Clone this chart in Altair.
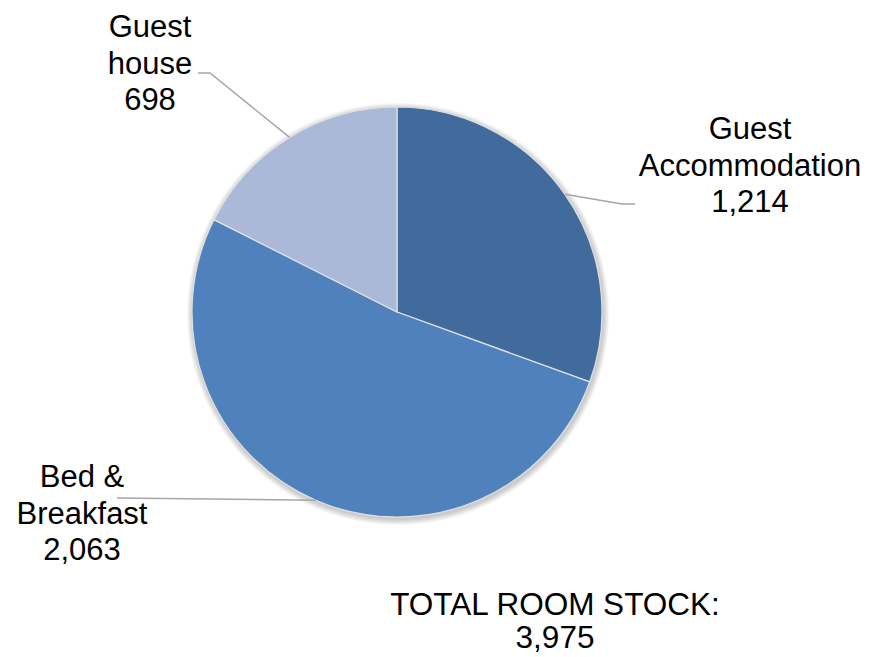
import math
import altair as alt
import pandas as pd

# ---- data ----
categories = ["Guest Accommodation", "Bed & Breakfast", "Guest house"]
label_names = ["Guest\nAccommodation", "Bed &\nBreakfast", "Guest\nhouse"]
values = [1214, 2063, 698]
total_label = "TOTAL ROOM STOCK:"
colors = ["#416B9D", "#4F81BD", "#A9B9D7"]

# ---- layout (pixels within the chart area) ----
W, H = 858, 649
CX, CY, R = 389, 304, 205
FONT = "Liberation Sans"
label_pos = {  # centre x, first baseline y
    "Guest Accommodation": (742, 131),
    "Bed & Breakfast": (74, 479),
    "Guest house": (142, 29),
}
leader_outer = {  # elbow points after the slice edge point
    "Guest Accommodation": [(614, 196), (627, 196)],
    "Bed & Breakfast": [(109, 490)],
    "Guest house": [(202, 65), (190, 65)],
}
total_pos = (547, 607)

total = sum(values)
pie_df = pd.DataFrame({"category": categories, "value": values, "idx": range(len(values))})

labels = []
lines = []
cum = 0
for cat, name, v in zip(categories, label_names, values):
    mid = 2 * math.pi * (cum + v / 2) / total
    cum += v
    ex, ey = CX + R * math.sin(mid), CY - R * math.cos(mid)
    pts = [(ex, ey)] + leader_outer[cat]
    for i, (px, py) in enumerate(pts):
        lines.append({"category": cat, "seq": i, "px": px, "py": py})
    lx, ly = label_pos[cat]
    labels.append({"category": cat, "text": name + "\n" + f"{v:,}", "px": lx, "py": ly})

lines_df = pd.DataFrame(lines)
labels_df = pd.DataFrame(labels)
total_df = pd.DataFrame([{"text": total_label + "\n" + f"{total:,}",
                          "px": total_pos[0], "py": total_pos[1]}])

# soft shadow behind the pie
shadow_layers = []
for k in range(1, 7):
    shadow_layers.append(
        alt.Chart(pd.DataFrame({"value": [total]})).mark_arc(
            radius=R + k, color="#000000", opacity=0.035
        ).encode(theta=alt.Theta("value:Q"), x=alt.value(CX + 1), y=alt.value(CY + 2))
    )

pie = alt.Chart(pie_df).mark_arc(radius=R, stroke="#E0E0E0", strokeWidth=1.2).encode(
    theta=alt.Theta("value:Q", stack=True),
    order=alt.Order("idx:Q"),
    color=alt.Color("category:N", scale=alt.Scale(domain=categories, range=colors), legend=None),
    x=alt.value(CX),
    y=alt.value(CY),
)

leaders = alt.Chart(lines_df).mark_line(color="#A6A6A6", strokeWidth=1.5).encode(
    x=alt.X("px:Q", scale=None),
    y=alt.Y("py:Q", scale=None),
    detail="category:N",
    order="seq:Q",
)

label_text = alt.Chart(labels_df).mark_text(
    font=FONT, fontSize=31, lineHeight=36.5, align="center", baseline="alphabetic",
    lineBreak="\n", color="#000000",
).encode(
    x=alt.X("px:Q", scale=None),
    y=alt.Y("py:Q", scale=None),
    text="text:N",
)

total_text = alt.Chart(total_df).mark_text(
    font=FONT, fontSize=31.5, lineHeight=33, align="center", baseline="alphabetic",
    lineBreak="\n", color="#000000",
).encode(
    x=alt.X("px:Q", scale=None),
    y=alt.Y("py:Q", scale=None),
    text="text:N",
)

chart = alt.layer(*shadow_layers, pie, leaders, label_text, total_text).properties(
    width=W, height=H, autosize=alt.AutoSizeParams(type="none"), padding=0,
).configure_view(stroke=None)

chart.save("out.html", embed_options={"renderer": "svg", "actions": False})
